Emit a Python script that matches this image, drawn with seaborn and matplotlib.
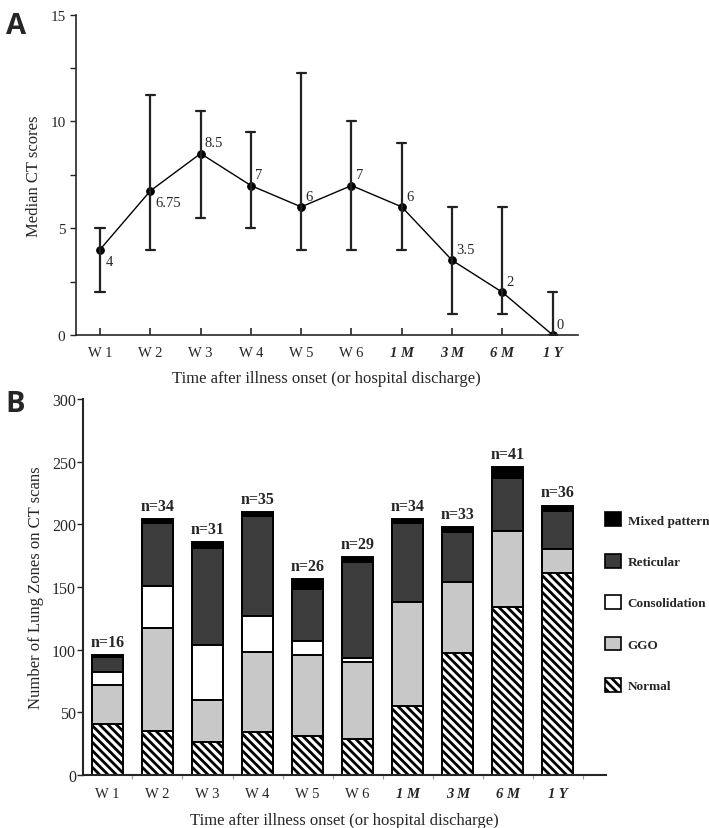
import numpy as np
import pandas as pd
import matplotlib
matplotlib.use("Agg")
import matplotlib.pyplot as plt
from matplotlib.patches import Patch
import seaborn as sns

# time points (weeks after onset, then months/year after discharge)
times = ['W 1', 'W 2', 'W 3', 'W 4', 'W 5', 'W 6', '1 M', '3 M', '6 M', '1 Y']

# panel A: median CT score with range
median_score = [4, 6.75, 8.5, 7, 6, 7, 6, 3.5, 2, 0]
score_low = [2, 4, 5.5, 5, 4, 4, 4, 1, 1, 0]
score_high = [5, 11.25, 10.5, 9.5, 12.25, 10, 9, 6, 6, 2]
median_text = ['4', '6.75', '8.5', '7', '6', '7', '6', '3.5', '2', '0']

# panel B: number of lung zones per pattern
normal = [41, 35, 26, 34, 31, 29, 55, 97, 134, 161]
ggo = [31, 82, 34, 64, 65, 61, 83, 57, 61, 19]
consolidation = [10, 34, 44, 29, 11, 3, 0, 0, 0, 0]
reticular = [12, 50, 77, 80, 41, 77, 63, 40, 42, 31]
mixed = [2, 3, 5, 3, 8, 4, 3, 4, 9, 4]
n_patients = [16, 34, 31, 35, 26, 29, 34, 33, 41, 36]

sns.set_style('ticks')
plt.rcParams['font.family'] = ['Liberation Serif', 'DejaVu Serif']
plt.rcParams['hatch.linewidth'] = 2.0

fig = plt.figure(figsize=(7.09, 8.29), dpi=100)
axA = fig.add_axes([0.107, 0.5947, 0.708, 0.3863])
axB = fig.add_axes([0.117, 0.064, 0.738, 0.4535])

# ---------------- panel A ----------------
rows = []
for t, lo, md, hi in zip(times, score_low, median_score, score_high):
    for v in (lo, md, hi):
        rows.append({'time': t, 'score': v})
dfA = pd.DataFrame(rows)

sns.pointplot(data=dfA, x='time', y='score', order=times, estimator='median',
              errorbar=lambda v: (v.min(), v.max()), color='black',
              markers='o', markersize=5.5, linewidth=1.0, capsize=0.18,
              err_kws={'linewidth': 1.6, 'color': '#222222'}, ax=axA)

for i, (m, txt) in enumerate(zip(median_score, median_text)):
    if i < 2:
        axA.annotate(txt, (i, m), xytext=(4, -4), textcoords='offset points',
                     ha='left', va='top', fontsize=10.5)
    else:
        axA.annotate(txt, (i, m), xytext=(3, 3), textcoords='offset points',
                     ha='left', va='bottom', fontsize=10.5)

axA.set_xlim(-0.48, 9.5)
axA.set_ylim(0, 15)
axA.set_yticks([0, 5, 10, 15])
axA.set_yticks([2.5, 7.5, 12.5], minor=True)
axA.tick_params(axis='y', which='both', direction='out', length=4, width=1, labelsize=11)
axA.tick_params(axis='x', which='major', direction='in', length=5, width=1.2,
                labelsize=10.5, pad=8)
axA.set_xlabel('Time after illness onset (or hospital discharge)', fontsize=12, labelpad=8)
axA.set_ylabel('Median CT scores', fontsize=12, labelpad=6)
sns.despine(ax=axA)

# ---------------- panel B ----------------
layers = [('Normal', normal, 'white', '\\\\\\\\'),
          ('GGO', ggo, '#c8c8c8', None),
          ('Consolidation', consolidation, 'white', None),
          ('Reticular', reticular, '#3c3c3c', None),
          ('Mixed pattern', mixed, 'black', None)]

cum = np.cumsum([l[1] for l in layers], axis=0)
for (name, vals, col, hatch), top in reversed(list(zip(layers, cum))):
    dfB = pd.DataFrame({'time': times, 'count': top})
    sns.barplot(data=dfB, x='time', y='count', order=times, color=col,
                saturation=1, edgecolor='black', linewidth=1.4, width=0.63,
                hatch=hatch, ax=axB)

totals = cum[-1]
for i, (tot, n) in enumerate(zip(totals, n_patients)):
    axB.text(i, tot + 4, f'n={n}', ha='center', va='bottom',
             fontsize=11.5, fontweight='bold')

axB.set_xlim(-0.49, 9.97)
axB.set_ylim(0, 300)
axB.set_yticks(np.arange(0, 301, 50))
axB.set_xticks(np.arange(10) + 0.5, minor=True)
axB.tick_params(axis='x', which='major', length=0, labelsize=10.5, pad=9)
axB.tick_params(axis='x', which='minor', direction='out', length=3, width=0.8, color='#999999')
axB.tick_params(axis='y', direction='out', length=4, width=1, labelsize=11.5, pad=1)
axB.set_xlabel('Time after illness onset (or hospital discharge)', fontsize=12, labelpad=8)
axB.set_ylabel('Number of Lung Zones on CT scans', fontsize=12, labelpad=6)
sns.despine(ax=axB)
for sp in ('left', 'bottom'):
    axB.spines[sp].set_linewidth(1.5)
    axA.spines[sp].set_linewidth(1.2)

# month / year labels in bold italic
for ax in (axA, axB):
    ax.set_xticks(range(len(times)))
    ax.set_xticklabels(times)
    for lab in ax.get_xticklabels():
        if not lab.get_text().startswith('W'):
            lab.set_fontweight('bold')
            lab.set_fontstyle('italic')

handles = [Patch(facecolor=col, edgecolor='black', hatch=hatch, linewidth=1.2, label=name)
           for name, vals, col, hatch in reversed(layers)]
fig.legend(handles=handles, loc='upper left', bbox_to_anchor=(0.853, 0.381),
           frameon=False, borderpad=0, borderaxespad=0, handlelength=1.25,
           handleheight=1.25, handletextpad=0.5, labelspacing=2.05,
           prop={'weight': 'bold', 'size': 9.5})

fig.text(0.008, 0.985, 'A', fontsize=21, fontweight='bold', family='Open Sans', va='top')
fig.text(0.008, 0.529, 'B', fontsize=21, fontweight='bold', family='Open Sans', va='top')

fig.savefig('out.png', dpi=100)
